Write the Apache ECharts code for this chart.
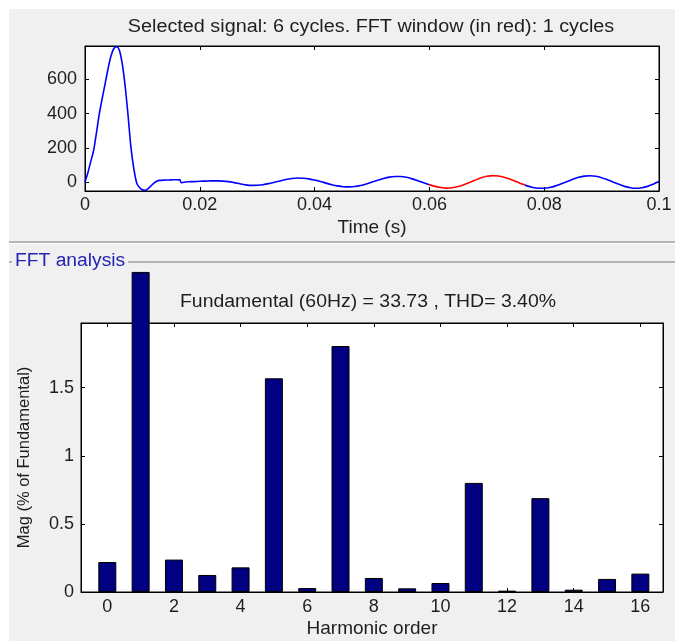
<!DOCTYPE html>
<html lang="en">

<head>
    <meta charset="UTF-8">
    <title>FFT analysis</title>
    <script src="https://cdn.jsdelivr.net/npm/echarts/dist/echarts.min.js"></script>
    <style>
        body {
            margin: 0;
            background: #fff;
        }

        #main {
            width: 675px;
            height: 641px;
        }
    </style>
</head>

<body>
    <div id="main"></div>

    <script>
        // selected signal (time in s, amplitude)
        const timeVals = [
            0, 0.0005, 0.001, 0.0015, 0.002, 0.0025, 0.003, 0.0035, 0.004, 0.0045,
            0.005, 0.0055, 0.006, 0.0065, 0.007, 0.0075, 0.008, 0.0085, 0.009, 0.0095,
            0.010, 0.0105, 0.011, 0.0115, 0.012, 0.0125, 0.013, 0.014, 0.015, 0.016,
            0.0165, 0.0168, 0.017, 0.018, 0.019, 0.020, 0.021, 0.022, 0.023, 0.024,
            0.025, 0.026, 0.027, 0.028, 0.029, 0.030, 0.031, 0.032, 0.033, 0.034,
            0.035, 0.036, 0.037, 0.038, 0.039, 0.040, 0.041, 0.042, 0.043, 0.044,
            0.045, 0.046, 0.047, 0.048, 0.049, 0.050, 0.051, 0.052, 0.053, 0.054,
            0.055, 0.056, 0.057, 0.058, 0.059, 0.060, 0.061, 0.062, 0.063, 0.064,
            0.065, 0.066, 0.067, 0.068, 0.069, 0.070, 0.071, 0.072, 0.073, 0.074,
            0.075, 0.076, 0.077, 0.078, 0.079, 0.080, 0.081, 0.082, 0.083, 0.084,
            0.085, 0.086, 0.087, 0.088, 0.089, 0.090, 0.091, 0.092, 0.093, 0.094,
            0.095, 0.096, 0.097, 0.098, 0.099, 0.100
        ];
        const signalVals = [
            0, 55, 120, 185, 290, 400, 490, 575, 660, 735,
            780, 792, 770, 690, 560, 390, 205, 80, -5, -32,
            -45, -48, -38, -22, -6, 5, 10, 12, 13, 14,
            13, -4, -2, 2, 3, 5, 6, 7, 7, 6,
            3, -3, -10, -16, -19, -18, -15, -9, -1, 7,
            15, 21, 24, 23, 19, 12, 4, -6, -15, -22,
            -27, -28, -26, -20, -11, 0, 11, 21, 29, 33,
            33, 28, 19, 8, -4, -15, -25, -32, -35, -33,
            -26, -15, -2, 12, 25, 34, 38, 36, 29, 18,
            5, -9, -22, -31, -36, -36, -31, -22, -10, 4,
            17, 28, 35, 37, 34, 26, 14, 1, -13, -25,
            -33, -36, -33, -25, -12, 3
        ];
        const fftWindow = [0.06, 0.0767];
        const timeTicks = [0, 0.02, 0.04, 0.06, 0.08, 0.1];
        const signalTicks = [0, 200, 400, 600];

        // harmonic spectrum (% of fundamental)
        const harmonicOrder = [0, 1, 2, 3, 4, 5, 6, 7, 8, 9, 10, 11, 12, 13, 14, 15, 16];
        const magPercent = [0.22, 2.35, 0.238, 0.125, 0.181, 1.569, 0.029, 1.806, 0.103,
            0.027, 0.066, 0.801, 0.01, 0.689, 0.017, 0.096, 0.135];
        const harmonicTicks = [0, 2, 4, 6, 8, 10, 12, 14, 16];
        const magTicks = [0, 0.5, 1, 1.5];

        const font = "'Liberation Sans', Arial, sans-serif";
        const textColor = '#1e1e1e';

        var myChart = echarts.init(document.getElementById('main'));

        function boxAxis(type, pos, gridIndex, min, max, ticks, withLabels) {
            return {
                type: 'value',
                gridIndex: gridIndex,
                position: pos,
                min: min,
                max: max,
                axisLine: { show: true, onZero: false, lineStyle: { color: '#000', width: 1 } },
                axisTick: { show: true, inside: true, length: 4, customValues: ticks, lineStyle: { color: '#000' } },
                axisLabel: withLabels ? {
                    show: true, customValues: ticks, fontFamily: font, fontSize: 18, color: textColor,
                    margin: type === 'x' ? 5 : 8
                } : { show: false },
                splitLine: { show: false }
            };
        }

        const timeX = boxAxis('x', 'bottom', 0, 0, 0.1, timeTicks, true);
        timeX.name = 'Time (s)';
        timeX.nameLocation = 'middle';
        timeX.nameGap = 27;
        timeX.nameTextStyle = { fontFamily: font, fontSize: 19, color: textColor };

        const harmX = boxAxis('x', 'bottom', 1, -0.79, 16.68, harmonicTicks, true);
        harmX.axisLabel.margin = 6;
        harmX.name = 'Harmonic order';
        harmX.nameLocation = 'middle';
        harmX.nameGap = 27;
        harmX.nameTextStyle = { fontFamily: font, fontSize: 19, color: textColor };

        const magY = boxAxis('y', 'left', 1, 0, 1.975, magTicks, true);
        magY.axisLabel.margin = 7;
        magY.name = 'Mag (% of Fundamental)';
        magY.nameLocation = 'middle';
        magY.nameGap = 48;
        magY.nameTextStyle = { fontFamily: font, fontSize: 16.5, color: textColor };

        var option = {
            animation: false,
            grid: [
                { left: 85, right: 16, top: 46, height: 145, show: true, backgroundColor: '#fff', borderColor: '#000', borderWidth: 1 },
                { left: 81, right: 12, top: 323, height: 269, show: true, backgroundColor: '#fff', borderColor: '#000', borderWidth: 1 }
            ],
            xAxis: [
                timeX,
                boxAxis('x', 'top', 0, 0, 0.1, timeTicks, false),
                harmX,
                boxAxis('x', 'top', 1, -0.79, 16.68, harmonicTicks, false)
            ],
            yAxis: [
                boxAxis('y', 'left', 0, -52, 796, signalTicks, true),
                boxAxis('y', 'right', 0, -52, 796, signalTicks, false),
                magY,
                boxAxis('y', 'right', 1, 0, 1.975, magTicks, false)
            ],
            visualMap: {
                type: 'piecewise',
                show: false,
                seriesIndex: 0,
                dimension: 0,
                pieces: [{ gte: fftWindow[0], lte: fftWindow[1], color: '#ff0000' }],
                outOfRange: { color: '#0000ff' }
            },
            graphic: [
                { type: 'rect', z: -10, shape: { x: 9, y: 9, width: 666, height: 632 }, style: { fill: '#f0f0f0' } },
                { type: 'line', shape: { x1: 9, y1: 242, x2: 675, y2: 242 }, style: { stroke: '#a0a0a0', lineWidth: 1.5 } },
                { type: 'line', shape: { x1: 9, y1: 243.5, x2: 675, y2: 243.5 }, style: { stroke: '#ffffff', lineWidth: 1 } },
                { type: 'line', shape: { x1: 128, y1: 262, x2: 675, y2: 262 }, style: { stroke: '#a0a0a0', lineWidth: 1.5 } },
                { type: 'line', shape: { x1: 9, y1: 262, x2: 12, y2: 262 }, style: { stroke: '#a0a0a0', lineWidth: 1.5 } },
                {
                    type: 'text', x: 15, y: 261, scaleX: 1.07,
                    style: { text: 'FFT analysis', font: '18px ' + font, fill: '#2323b4', textVerticalAlign: 'middle' }
                },
                {
                    type: 'text', x: 371, y: 27, scaleX: 1.1,
                    style: {
                        text: 'Selected signal: 6 cycles. FFT window (in red): 1 cycles', font: '18px ' + font,
                        fill: textColor, textAlign: 'center', textVerticalAlign: 'middle'
                    }
                },
                {
                    type: 'text', x: 368, y: 302, scaleX: 1.08,
                    style: {
                        text: 'Fundamental (60Hz) = 33.73 , THD= 3.40%', font: '18px ' + font,
                        fill: textColor, textAlign: 'center', textVerticalAlign: 'middle'
                    }
                }
            ],
            series: [
                {
                    name: 'signal',
                    type: 'line',
                    xAxisIndex: 0,
                    yAxisIndex: 0,
                    data: timeVals.map((t, i) => [t, signalVals[i]]),
                    showSymbol: false,
                    smooth: 0.3,
                    lineStyle: { width: 1.6 },
                    z: 3
                },
                {
                    name: 'harmonics',
                    type: 'bar',
                    xAxisIndex: 2,
                    yAxisIndex: 2,
                    data: harmonicOrder.map((h, i) => [h, magPercent[i]]),
                    barWidth: 18,
                    clip: false,
                    itemStyle: { color: '#000080', borderColor: '#000', borderWidth: 1 }
                }
            ]
        };

        myChart.setOption(option);
    </script>
</body>

</html>
